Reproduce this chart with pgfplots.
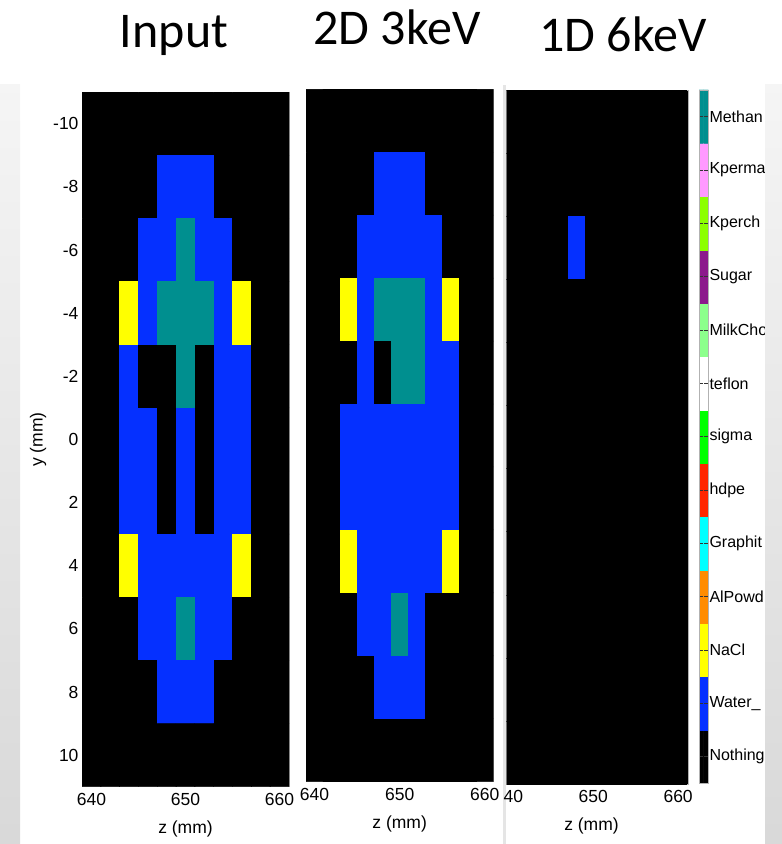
\documentclass[border=0pt]{standalone}
\usepackage{pgfplots}
\pgfplotsset{compat=1.18}
\usepackage{pgfplotstable}
\usepackage{fontspec}
\setmainfont{Liberation Sans}
\newfontfamily\titlefont{Carlito}

\pgfplotstableread[row sep=\\]{
x y c\\
640 -10 0\\ 642 -10 0\\ 644 -10 0\\ 646 -10 0\\ 648 -10 0\\ 650 -10 0\\ 652 -10 0\\ 654 -10 0\\ 656 -10 0\\ 658 -10 0\\ 660 -10 0\\
640 -8 0\\ 642 -8 0\\ 644 -8 0\\ 646 -8 0\\ 648 -8 1\\ 650 -8 1\\ 652 -8 1\\ 654 -8 0\\ 656 -8 0\\ 658 -8 0\\ 660 -8 0\\
640 -6 0\\ 642 -6 0\\ 644 -6 0\\ 646 -6 1\\ 648 -6 1\\ 650 -6 12\\ 652 -6 1\\ 654 -6 1\\ 656 -6 0\\ 658 -6 0\\ 660 -6 0\\
640 -4 0\\ 642 -4 0\\ 644 -4 2\\ 646 -4 1\\ 648 -4 12\\ 650 -4 12\\ 652 -4 12\\ 654 -4 1\\ 656 -4 2\\ 658 -4 0\\ 660 -4 0\\
640 -2 0\\ 642 -2 0\\ 644 -2 1\\ 646 -2 0\\ 648 -2 0\\ 650 -2 12\\ 652 -2 0\\ 654 -2 1\\ 656 -2 1\\ 658 -2 0\\ 660 -2 0\\
640 0 0\\ 642 0 0\\ 644 0 1\\ 646 0 1\\ 648 0 0\\ 650 0 1\\ 652 0 0\\ 654 0 1\\ 656 0 1\\ 658 0 0\\ 660 0 0\\
640 2 0\\ 642 2 0\\ 644 2 1\\ 646 2 1\\ 648 2 0\\ 650 2 1\\ 652 2 0\\ 654 2 1\\ 656 2 1\\ 658 2 0\\ 660 2 0\\
640 4 0\\ 642 4 0\\ 644 4 2\\ 646 4 1\\ 648 4 1\\ 650 4 1\\ 652 4 1\\ 654 4 1\\ 656 4 2\\ 658 4 0\\ 660 4 0\\
640 6 0\\ 642 6 0\\ 644 6 0\\ 646 6 1\\ 648 6 1\\ 650 6 12\\ 652 6 1\\ 654 6 1\\ 656 6 0\\ 658 6 0\\ 660 6 0\\
640 8 0\\ 642 8 0\\ 644 8 0\\ 646 8 0\\ 648 8 1\\ 650 8 1\\ 652 8 1\\ 654 8 0\\ 656 8 0\\ 658 8 0\\ 660 8 0\\
640 10 0\\ 642 10 0\\ 644 10 0\\ 646 10 0\\ 648 10 0\\ 650 10 0\\ 652 10 0\\ 654 10 0\\ 656 10 0\\ 658 10 0\\ 660 10 0\\
}\inputgrid

\pgfplotstableread[row sep=\\]{
x y c\\
640 -10 0\\ 642 -10 0\\ 644 -10 0\\ 646 -10 0\\ 648 -10 0\\ 650 -10 0\\ 652 -10 0\\ 654 -10 0\\ 656 -10 0\\ 658 -10 0\\ 660 -10 0\\
640 -8 0\\ 642 -8 0\\ 644 -8 0\\ 646 -8 0\\ 648 -8 1\\ 650 -8 1\\ 652 -8 1\\ 654 -8 0\\ 656 -8 0\\ 658 -8 0\\ 660 -8 0\\
640 -6 0\\ 642 -6 0\\ 644 -6 0\\ 646 -6 1\\ 648 -6 1\\ 650 -6 1\\ 652 -6 1\\ 654 -6 1\\ 656 -6 0\\ 658 -6 0\\ 660 -6 0\\
640 -4 0\\ 642 -4 0\\ 644 -4 2\\ 646 -4 1\\ 648 -4 12\\ 650 -4 12\\ 652 -4 12\\ 654 -4 1\\ 656 -4 2\\ 658 -4 0\\ 660 -4 0\\
640 -2 0\\ 642 -2 0\\ 644 -2 0\\ 646 -2 1\\ 648 -2 0\\ 650 -2 12\\ 652 -2 12\\ 654 -2 1\\ 656 -2 1\\ 658 -2 0\\ 660 -2 0\\
640 0 0\\ 642 0 0\\ 644 0 1\\ 646 0 1\\ 648 0 1\\ 650 0 1\\ 652 0 1\\ 654 0 1\\ 656 0 1\\ 658 0 0\\ 660 0 0\\
640 2 0\\ 642 2 0\\ 644 2 1\\ 646 2 1\\ 648 2 1\\ 650 2 1\\ 652 2 1\\ 654 2 1\\ 656 2 1\\ 658 2 0\\ 660 2 0\\
640 4 0\\ 642 4 0\\ 644 4 2\\ 646 4 1\\ 648 4 1\\ 650 4 1\\ 652 4 1\\ 654 4 1\\ 656 4 2\\ 658 4 0\\ 660 4 0\\
640 6 0\\ 642 6 0\\ 644 6 0\\ 646 6 1\\ 648 6 1\\ 650 6 12\\ 652 6 1\\ 654 6 0\\ 656 6 0\\ 658 6 0\\ 660 6 0\\
640 8 0\\ 642 8 0\\ 644 8 0\\ 646 8 0\\ 648 8 1\\ 650 8 1\\ 652 8 1\\ 654 8 0\\ 656 8 0\\ 658 8 0\\ 660 8 0\\
640 10 0\\ 642 10 0\\ 644 10 0\\ 646 10 0\\ 648 10 0\\ 650 10 0\\ 652 10 0\\ 654 10 0\\ 656 10 0\\ 658 10 0\\ 660 10 0\\
}\twodgrid

\pgfplotstableread[row sep=\\]{
x y c\\
640 -10 0\\ 642 -10 0\\ 644 -10 0\\ 646 -10 0\\ 648 -10 0\\ 650 -10 0\\ 652 -10 0\\ 654 -10 0\\ 656 -10 0\\ 658 -10 0\\ 660 -10 0\\
640 -8 0\\ 642 -8 0\\ 644 -8 0\\ 646 -8 0\\ 648 -8 0\\ 650 -8 0\\ 652 -8 0\\ 654 -8 0\\ 656 -8 0\\ 658 -8 0\\ 660 -8 0\\
640 -6 0\\ 642 -6 0\\ 644 -6 0\\ 646 -6 0\\ 648 -6 1\\ 650 -6 0\\ 652 -6 0\\ 654 -6 0\\ 656 -6 0\\ 658 -6 0\\ 660 -6 0\\
640 -4 0\\ 642 -4 0\\ 644 -4 0\\ 646 -4 0\\ 648 -4 0\\ 650 -4 0\\ 652 -4 0\\ 654 -4 0\\ 656 -4 0\\ 658 -4 0\\ 660 -4 0\\
640 -2 0\\ 642 -2 0\\ 644 -2 0\\ 646 -2 0\\ 648 -2 0\\ 650 -2 0\\ 652 -2 0\\ 654 -2 0\\ 656 -2 0\\ 658 -2 0\\ 660 -2 0\\
640 0 0\\ 642 0 0\\ 644 0 0\\ 646 0 0\\ 648 0 0\\ 650 0 0\\ 652 0 0\\ 654 0 0\\ 656 0 0\\ 658 0 0\\ 660 0 0\\
640 2 0\\ 642 2 0\\ 644 2 0\\ 646 2 0\\ 648 2 0\\ 650 2 0\\ 652 2 0\\ 654 2 0\\ 656 2 0\\ 658 2 0\\ 660 2 0\\
640 4 0\\ 642 4 0\\ 644 4 0\\ 646 4 0\\ 648 4 0\\ 650 4 0\\ 652 4 0\\ 654 4 0\\ 656 4 0\\ 658 4 0\\ 660 4 0\\
640 6 0\\ 642 6 0\\ 644 6 0\\ 646 6 0\\ 648 6 0\\ 650 6 0\\ 652 6 0\\ 654 6 0\\ 656 6 0\\ 658 6 0\\ 660 6 0\\
640 8 0\\ 642 8 0\\ 644 8 0\\ 646 8 0\\ 648 8 0\\ 650 8 0\\ 652 8 0\\ 654 8 0\\ 656 8 0\\ 658 8 0\\ 660 8 0\\
640 10 0\\ 642 10 0\\ 644 10 0\\ 646 10 0\\ 648 10 0\\ 650 10 0\\ 652 10 0\\ 654 10 0\\ 656 10 0\\ 658 10 0\\ 660 10 0\\
}\onedgrid

\pgfplotstableread[row sep=\\]{
x y c\\
0 0 0\\ 1 0 0\\ 0 1 1\\ 1 1 1\\ 0 2 2\\ 1 2 2\\ 0 3 3\\ 1 3 3\\ 0 4 4\\ 1 4 4\\
0 5 5\\ 1 5 5\\ 0 6 6\\ 1 6 6\\ 0 7 7\\ 1 7 7\\ 0 8 8\\ 1 8 8\\ 0 9 9\\ 1 9 9\\
0 10 10\\ 1 10 10\\ 0 11 11\\ 1 11 11\\ 0 12 12\\ 1 12 12\\
}\cbgrid

\pgfplotsset{
  matcolors/.style={
    colormap={mat}{rgb255=(0,0,0) rgb255=(5,48,255) rgb255=(255,255,0)
      rgb255=(255,140,0) rgb255=(0,255,255) rgb255=(255,38,0) rgb255=(0,255,0)
      rgb255=(255,255,255) rgb255=(140,255,140) rgb255=(140,25,140)
      rgb255=(140,255,0) rgb255=(255,153,255) rgb255=(0,143,143)},
    colormap access=direct,
  },
  panel/.style={
    matcolors,
    scale only axis, anchor=south west,
    xmin=639, xmax=661, ymin=-11, ymax=11, y dir=reverse,
    axis background/.style={fill=black},
    axis line style={gray!60, line width=0.8pt},
    tick style={draw=none},
    xtick={640,650,660}, xticklabels={640,650,660},
    ytick={-10,-8,-6,-4,-2,0,2,4,6,8,10}, yticklabels={},
    tick label style={font=\fontsize{17.5}{17.5}\selectfont},
    xticklabel style={yshift=-3pt},
    label style={font=\fontsize{17.5}{17.5}\selectfont},
    xlabel={z (mm)},
    xlabel style={yshift=-8pt},
  },
}

\begin{document}
\begin{tikzpicture}
\useasboundingbox (0,0) rectangle (782pt,844pt);

\fill[gray!20] (502.5pt,0pt) rectangle (505.5pt,759pt);

\begin{axis}[panel, at={(82pt,57.3pt)}, width=207pt, height=694.5pt,
  yticklabels={-10,-8,-6,-4,-2,0,2,4,6,8,10}, ylabel={y (mm)}]
\addplot[matrix plot*, mesh/cols=11, point meta=explicit] table[x=x, y=y, meta=c] {\inputgrid};
\end{axis}

\begin{axis}[panel, at={(306pt,62.3pt)}, width=187.3pt, height=692.4pt]
\addplot[matrix plot*, mesh/cols=11, point meta=explicit] table[x=x, y=y, meta=c] {\twodgrid};
\end{axis}

\begin{axis}[panel, at={(506.7pt,60pt)}, width=181.6pt, height=694pt,
  xmin=639.8, xmax=661.2, xticklabels={\phantom{6}40,650,660},
  xlabel style={xshift=-6pt}]
\addplot[matrix plot*, mesh/cols=11, point meta=explicit] table[x=x, y=y, meta=c] {\onedgrid};
\end{axis}

\begin{axis}[matcolors, scale only axis, anchor=south west, at={(699pt,60.7pt)},
  width=9.3pt, height=693.3pt, xmin=-0.5, xmax=1.5, ymin=-0.5, ymax=12.5,
  axis on top,
  xtick=\empty, ytick={0,1,2,3,4,5,6,7,8,9,10,11,12},
  yticklabels={Nothing,Water\_,NaCl,AlPowd,Graphit,hdpe,sigma,teflon,MilkCho,Sugar,Kperch,Kperma,Methan},
  yticklabel pos=right, ytick pos=both, tick align=inside, major tick length=4pt,
  tick style={black!80, line width=0.7pt},
  axis line style={gray!60, line width=0.8pt},
  yticklabel style={font=\fontsize{16}{16}\selectfont, inner xsep=1pt}]
\addplot[matrix plot*, mesh/cols=2, point meta=explicit] table[x=x, y=y, meta=c] {\cbgrid};
\end{axis}

\shade[top color=gray!8, bottom color=gray!30] (0pt,0pt) rectangle (20pt,759pt);
\shade[top color=gray!8, bottom color=gray!30] (765pt,0pt) rectangle (782pt,759pt);

\node[anchor=base, font=\titlefont\fontsize{50}{50}\selectfont] at (174pt,796pt) {Input};
\node[anchor=base, font=\titlefont\fontsize{50}{50}\selectfont] at (397pt,799pt) {2D 3keV};
\node[anchor=base, font=\titlefont\fontsize{50}{50}\selectfont] at (623pt,792pt) {1D 6keV};
\end{tikzpicture}
\end{document}
